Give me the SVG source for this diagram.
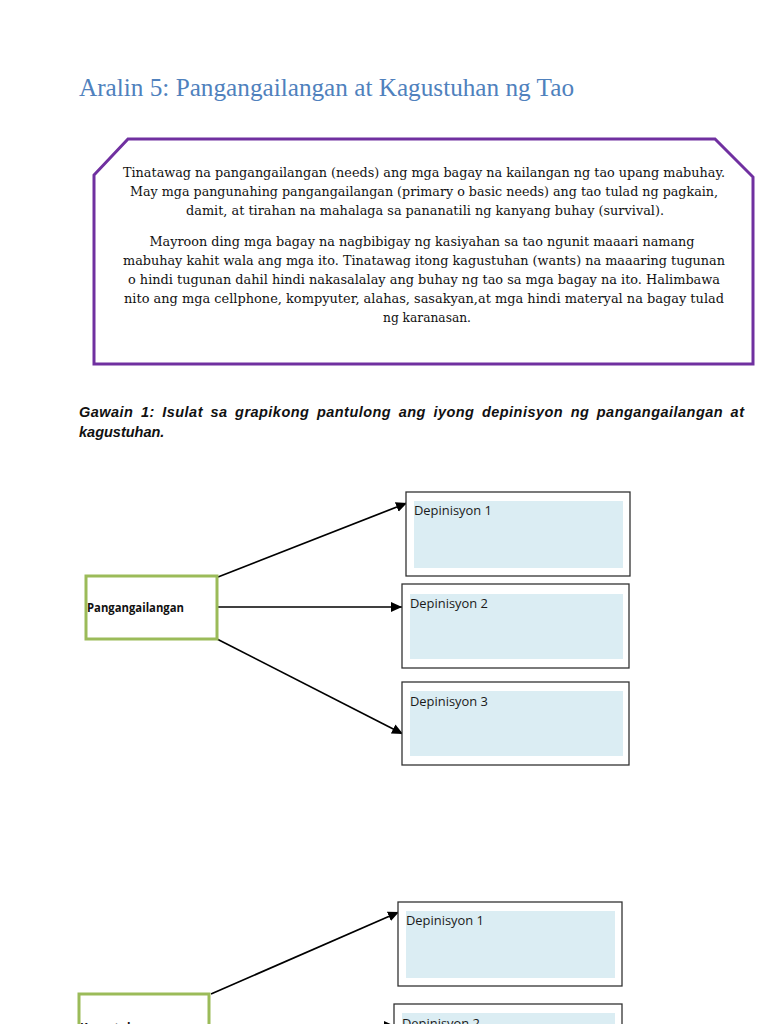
<svg xmlns="http://www.w3.org/2000/svg" width="768" height="1024" viewBox="0 0 768 1024">
<defs>
<style>
.title{font-family:"Liberation Serif","Times New Roman",serif;font-size:25px;fill:#4F81BD}
.para{font-family:"DejaVu Serif","Liberation Serif",serif;font-size:12.5px;fill:#111;text-anchor:middle}
.task{font-family:"Liberation Sans",Arial,sans-serif;font-size:14.5px;font-weight:bold;font-style:italic;fill:#111}
.src{fill:#fff;stroke:#9BBB59;stroke-width:3}
.srct{font-family:"Open Sans","Liberation Sans",sans-serif;font-size:11.5px;font-weight:bold;fill:#111}
.def{fill:#fff;stroke:#333;stroke-width:1.3}
.inner{fill:#DBEDF3}
.dt{font-family:"Open Sans","Liberation Sans",sans-serif;font-size:12.5px;fill:#1a1a1a}
.conn{stroke:#000;stroke-width:1.7;fill:none;marker-end:url(#ah)}
</style>
<marker id="ah" markerUnits="userSpaceOnUse" markerWidth="12" markerHeight="12" viewBox="0 0 12 12" refX="11" refY="6" orient="auto">
<path d="M0,1 L11,6 L0,11 Z" fill="#000"/>
</marker>
</defs>
<rect width="768" height="1024" fill="#fff"/>
<text class="title" x="79" y="96" textLength="495" lengthAdjust="spacingAndGlyphs">Aralin 5: Pangangailangan at Kagustuhan ng Tao</text>
<g id="info-box">
<polygon points="128,139 715,139 753,177 753,364 94,364 94,175" fill="#fff" stroke="#7030A0" stroke-width="3"/>
<text class="para" x="424" y="177" textLength="602" lengthAdjust="spacingAndGlyphs">Tinatawag na pangangailangan (needs) ang mga bagay na kailangan ng tao upang mabuhay.</text>
<text class="para" x="424" y="196" textLength="588" lengthAdjust="spacingAndGlyphs">May mga pangunahing pangangailangan (primary o basic needs) ang tao tulad ng pagkain,</text>
<text class="para" x="425" y="215" textLength="478" lengthAdjust="spacingAndGlyphs">damit, at tirahan na mahalaga sa pananatili ng kanyang buhay (survival).</text>
<text class="para" x="422" y="246" textLength="545" lengthAdjust="spacingAndGlyphs">Mayroon ding mga bagay na nagbibigay ng kasiyahan sa tao ngunit maaari namang</text>
<text class="para" x="424" y="265" textLength="602" lengthAdjust="spacingAndGlyphs">mabuhay kahit wala ang mga ito. Tinatawag itong kagustuhan (wants) na maaaring tugunan</text>
<text class="para" x="424" y="284" textLength="592" lengthAdjust="spacingAndGlyphs">o hindi tugunan dahil hindi nakasalalay ang buhay ng tao sa mga bagay na ito. Halimbawa</text>
<text class="para" x="424" y="303" textLength="600" lengthAdjust="spacingAndGlyphs">nito ang mga cellphone, kompyuter, alahas, sasakyan,at mga hindi materyal na bagay tulad</text>
<text class="para" x="427" y="322" textLength="88" lengthAdjust="spacingAndGlyphs">ng karanasan.</text>
</g>
<text class="task" x="79" y="417" word-spacing="3" textLength="665" lengthAdjust="spacing">Gawain 1: Isulat sa grapikong pantulong ang iyong depinisyon ng pangangailangan at</text>
<text class="task" x="79" y="437">kagustuhan.</text>
<g id="connectors">
<line class="conn" x1="218" y1="577" x2="407" y2="503"/>
<line class="conn" x1="217" y1="607" x2="402" y2="607"/>
<line class="conn" x1="217" y1="639" x2="403" y2="734"/>
<line class="conn" x1="211" y1="994" x2="399" y2="912"/>
<line class="conn" x1="209" y1="1026" x2="395" y2="1026"/>
</g>
<g id="needs">
<rect class="src" x="86" y="576" width="131" height="63"/>
<text class="srct" x="87" y="612" textLength="97" lengthAdjust="spacingAndGlyphs">Pangangailangan</text>
</g>
<g id="def1">
<rect class="def" x="406" y="492" width="224" height="84"/>
<rect class="inner" x="414" y="501" width="209" height="67"/>
<text class="dt" x="414" y="515" textLength="78" lengthAdjust="spacingAndGlyphs">Depinisyon 1</text>
</g>
<g id="def2">
<rect class="def" x="402" y="584" width="227" height="84"/>
<rect class="inner" x="410" y="594" width="213" height="65"/>
<text class="dt" x="410" y="608" textLength="78" lengthAdjust="spacingAndGlyphs">Depinisyon 2</text>
</g>
<g id="def3">
<rect class="def" x="402" y="682" width="227" height="83"/>
<rect class="inner" x="410" y="691" width="213" height="65"/>
<text class="dt" x="410" y="706" textLength="78" lengthAdjust="spacingAndGlyphs">Depinisyon 3</text>
</g>
<g id="wants">
<rect class="src" x="79" y="994" width="130" height="63"/>
<text class="srct" x="80" y="1032">Kagustuhan</text>
</g>
<g id="wdef1">
<rect class="def" x="398" y="902" width="224" height="84"/>
<rect class="inner" x="406" y="911" width="209" height="67"/>
<text class="dt" x="406" y="925" textLength="78" lengthAdjust="spacingAndGlyphs">Depinisyon 1</text>
</g>
<g id="wdef2">
<rect class="def" x="394" y="1004" width="228" height="84"/>
<rect class="inner" x="402" y="1013" width="213" height="65"/>
<text class="dt" x="402" y="1028" textLength="78" lengthAdjust="spacingAndGlyphs">Depinisyon 2</text>
</g>
</svg>
